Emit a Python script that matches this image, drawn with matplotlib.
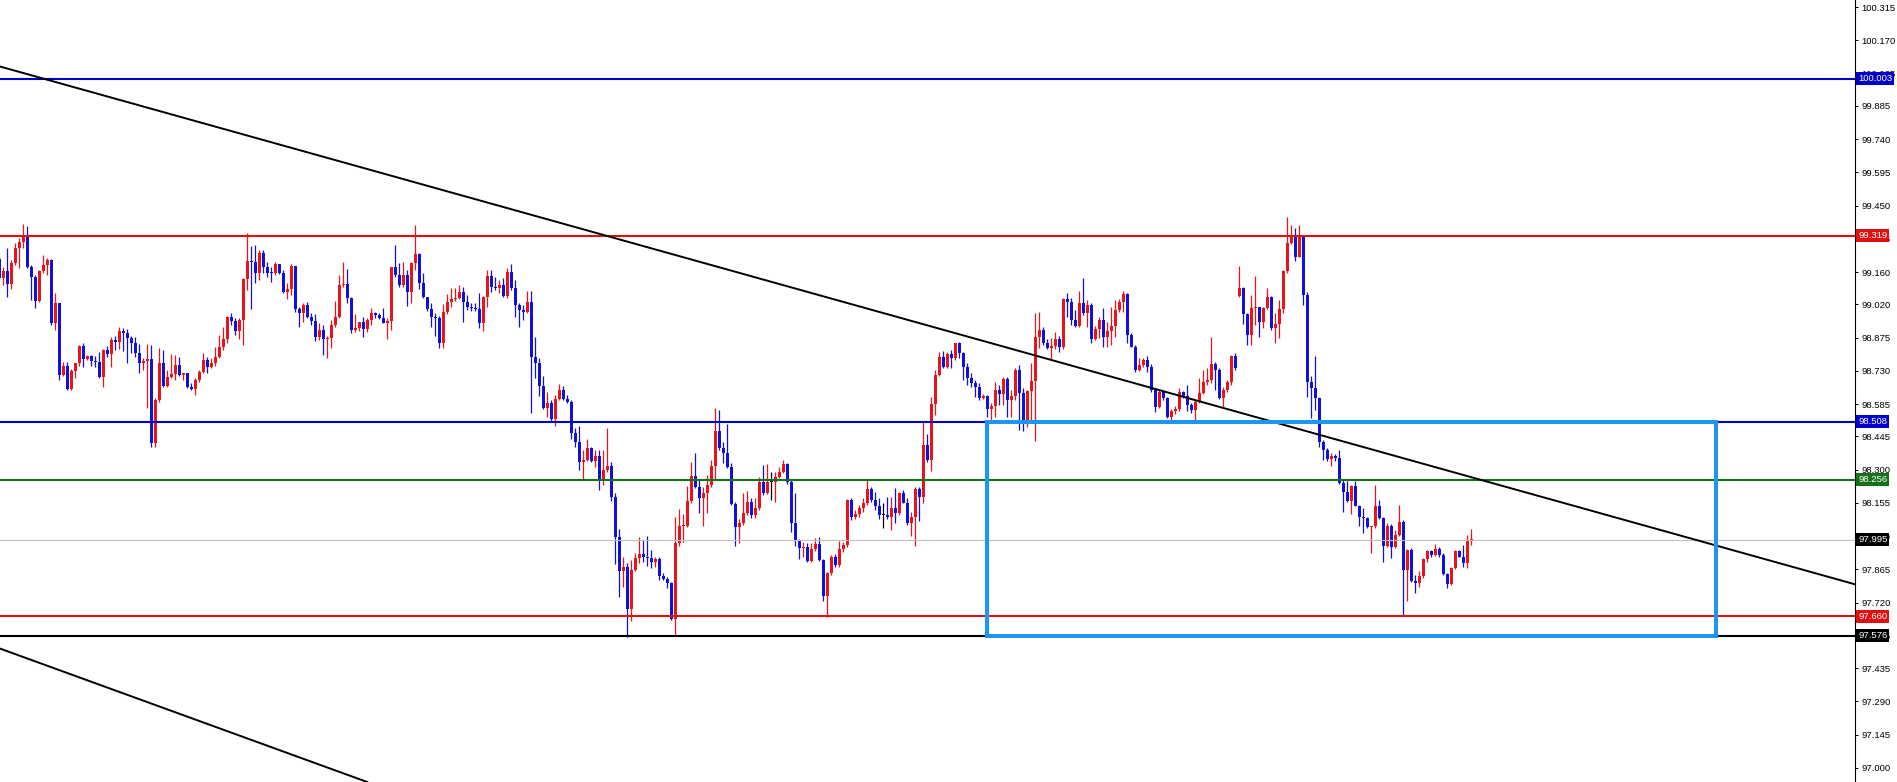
import matplotlib
matplotlib.use("Agg")
import matplotlib.pyplot as plt
from matplotlib.patches import Rectangle

######################################################################################
#####################   DATA  (one candle per bar, oldest first)
######################################################################################
first_open = 99.216

closes = [
    99.133, 99.165, 99.109, 99.199, 99.264, 99.290, 99.322, 99.181, 99.141, 99.036,
    99.165, 99.191, 99.213, 98.937, 99.024, 98.712, 98.751, 98.651, 98.731, 98.763,
    98.840, 98.782, 98.796, 98.775, 98.770, 98.702, 98.821, 98.804, 98.865, 98.857,
    98.904, 98.897, 98.875, 98.853, 98.810, 98.763, 98.773, 98.780, 98.414, 98.603,
    98.766, 98.666, 98.705, 98.717, 98.756, 98.712, 98.720, 98.661, 98.650, 98.690,
    98.727, 98.778, 98.749, 98.763, 98.792, 98.833, 98.868, 98.963, 98.949, 98.905,
    98.952, 99.129, 99.209, 99.206, 99.158, 99.245, 99.184, 99.158, 99.155, 99.196,
    99.158, 99.075, 99.087, 99.187, 98.998, 98.984, 99.017, 98.966, 98.947, 98.879,
    98.908, 98.869, 98.875, 98.930, 98.966, 99.104, 99.109, 99.046, 98.908, 98.918,
    98.941, 98.911, 98.952, 98.984, 98.973, 98.962, 98.940, 98.947, 99.181, 99.148,
    99.104, 99.148, 99.075, 99.199, 99.238, 99.111, 99.050, 98.998, 98.963, 98.959,
    98.850, 98.988, 99.029, 99.042, 99.049, 99.075, 99.032, 99.007, 99.002, 98.998,
    98.937, 99.050, 99.143, 99.097, 99.089, 99.104, 99.056, 99.159, 99.089, 99.017,
    98.995, 98.988, 99.031, 98.789, 98.766, 98.662, 98.567, 98.589, 98.519, 98.608,
    98.647, 98.606, 98.596, 98.458, 98.422, 98.335, 98.342, 98.393, 98.339, 98.357,
    98.248, 98.299, 98.316, 98.180, 98.005, 97.856, 97.875, 97.692, 97.863, 97.914,
    97.933, 97.918, 97.914, 97.895, 97.909, 97.834, 97.822, 97.805, 97.648, 97.982,
    98.052, 98.055, 98.161, 98.272, 98.226, 98.175, 98.197, 98.233, 98.316, 98.466,
    98.393, 98.374, 98.313, 98.150, 98.051, 98.066, 98.109, 98.160, 98.102, 98.131,
    98.247, 98.199, 98.247, 98.247, 98.269, 98.291, 98.324, 98.247, 98.069, 97.990,
    97.957, 97.961, 97.903, 97.953, 97.976, 97.906, 97.749, 97.851, 97.918, 97.884,
    97.953, 97.971, 98.167, 98.095, 98.106, 98.131, 98.153, 98.214, 98.167, 98.141,
    98.102, 98.102, 98.095, 98.131, 98.112, 98.199, 98.156, 98.069, 98.092, 98.214,
    98.179, 98.407, 98.342, 98.586, 98.712, 98.792, 98.745, 98.803, 98.785, 98.850,
    98.806, 98.745, 98.697, 98.679, 98.658, 98.610, 98.621, 98.563, 98.577, 98.647,
    98.629, 98.693, 98.603, 98.621, 98.734, 98.635, 98.516, 98.644, 98.687, 98.879,
    98.908, 98.850, 98.828, 98.839, 98.868, 98.833, 99.042, 99.032, 98.952, 98.926,
    99.027, 98.981, 99.017, 98.868, 98.911, 98.952, 98.879, 98.905, 98.926, 98.995,
    99.032, 99.065, 98.886, 98.835, 98.734, 98.756, 98.778, 98.748, 98.647, 98.571,
    98.640, 98.610, 98.531, 98.557, 98.563, 98.640, 98.621, 98.581, 98.560, 98.596,
    98.635, 98.683, 98.690, 98.760, 98.734, 98.611, 98.647, 98.683, 98.795, 98.741,
    99.090, 98.978, 98.886, 99.003, 99.010, 98.945, 99.003, 99.051, 98.915, 98.934,
    98.998, 99.167, 99.286, 99.322, 99.228, 99.322, 99.061, 98.683, 98.654, 98.611,
    98.418, 98.383, 98.345, 98.359, 98.349, 98.240, 98.200, 98.165, 98.229, 98.142,
    98.092, 98.088, 98.049, 98.052, 98.139, 98.088, 97.965, 98.055, 97.962, 98.015,
    98.073, 97.863, 97.950, 97.816, 97.805, 97.834, 97.909, 97.947, 97.928, 97.953,
    97.928, 97.845, 97.802, 97.870, 97.943, 97.921, 97.892, 97.991, 97.995,
]

highs = [
    99.230, 99.184, 99.264, 99.213, 99.286, 99.308, 99.370, 99.363, 99.191, 99.148,
    99.170, 99.235, 99.220, 99.216, 99.068, 99.022, 98.770, 98.770, 98.737, 98.766,
    98.843, 98.853, 98.799, 98.799, 98.796, 98.814, 98.824, 98.839, 98.876, 98.882,
    98.920, 98.916, 98.911, 98.882, 98.879, 98.847, 98.785, 98.847, 98.843, 98.611,
    98.828, 98.821, 98.734, 98.804, 98.799, 98.792, 98.722, 98.720, 98.676, 98.698,
    98.734, 98.810, 98.792, 98.785, 98.836, 98.886, 98.923, 98.969, 98.983, 98.959,
    98.959, 99.133, 99.332, 99.274, 99.278, 99.257, 99.257, 99.206, 99.184, 99.206,
    99.196, 99.169, 99.111, 99.196, 99.187, 99.010, 99.024, 99.032, 98.981, 98.976,
    98.937, 98.930, 98.882, 98.952, 99.035, 99.148, 99.206, 99.172, 99.050, 98.978,
    98.944, 98.966, 98.959, 99.002, 98.988, 98.981, 99.005, 98.959, 99.184, 99.278,
    99.201, 99.206, 99.169, 99.206, 99.366, 99.242, 99.155, 99.053, 99.024, 98.981,
    98.969, 99.020, 99.065, 99.090, 99.090, 99.104, 99.097, 99.061, 99.024, 99.024,
    99.068, 99.056, 99.169, 99.169, 99.140, 99.126, 99.133, 99.177, 99.195, 99.126,
    99.024, 99.017, 99.079, 99.079, 98.879, 98.785, 98.708, 98.640, 98.603, 98.625,
    98.673, 98.664, 98.625, 98.603, 98.480, 98.490, 98.386, 98.432, 98.400, 98.383,
    98.383, 98.383, 98.480, 98.335, 98.197, 98.040, 97.921, 97.892, 97.907, 97.936,
    98.005, 97.991, 98.011, 97.950, 97.921, 97.918, 97.848, 97.831, 97.812, 98.095,
    98.127, 98.107, 98.230, 98.331, 98.371, 98.255, 98.226, 98.277, 98.342, 98.567,
    98.560, 98.422, 98.499, 98.330, 98.160, 98.083, 98.199, 98.208, 98.175, 98.175,
    98.269, 98.320, 98.324, 98.291, 98.291, 98.313, 98.342, 98.330, 98.255, 98.199,
    97.999, 97.986, 97.979, 97.979, 98.001, 98.005, 97.909, 97.855, 97.928, 97.932,
    97.990, 97.986, 98.170, 98.175, 98.124, 98.146, 98.175, 98.255, 98.226, 98.204,
    98.175, 98.153, 98.182, 98.179, 98.218, 98.204, 98.211, 98.175, 98.117, 98.226,
    98.226, 98.509, 98.455, 98.618, 98.734, 98.814, 98.818, 98.814, 98.821, 98.853,
    98.857, 98.814, 98.763, 98.719, 98.690, 98.676, 98.629, 98.625, 98.592, 98.683,
    98.669, 98.702, 98.705, 98.647, 98.741, 98.756, 98.654, 98.647, 98.766, 98.984,
    98.988, 98.923, 98.868, 98.872, 98.901, 98.882, 99.046, 99.071, 99.046, 98.995,
    99.079, 99.133, 99.039, 99.024, 98.926, 98.966, 99.003, 98.944, 99.010, 99.039,
    99.042, 99.079, 99.068, 98.893, 98.843, 98.785, 98.785, 98.795, 98.760, 98.654,
    98.647, 98.647, 98.618, 98.563, 98.577, 98.654, 98.644, 98.669, 98.592, 98.603,
    98.697, 98.734, 98.741, 98.876, 98.770, 98.741, 98.661, 98.690, 98.799, 98.810,
    99.187, 99.094, 98.981, 99.061, 99.143, 99.010, 99.010, 99.090, 99.056, 98.981,
    99.039, 99.170, 99.402, 99.366, 99.351, 99.366, 99.271, 99.072, 98.708, 98.795,
    98.618, 98.429, 98.393, 98.371, 98.368, 98.383, 98.255, 98.248, 98.233, 98.248,
    98.146, 98.131, 98.095, 98.055, 98.233, 98.168, 98.095, 98.066, 98.063, 98.037,
    98.146, 98.081, 97.952, 97.957, 97.841, 97.856, 97.914, 97.950, 97.950, 97.976,
    97.961, 97.935, 97.851, 97.877, 97.950, 97.950, 97.972, 98.015, 98.040,
]

lows = [
    99.120, 99.104, 99.051, 99.087, 99.191, 99.177, 99.264, 99.177, 99.039, 99.006,
    99.032, 99.155, 99.148, 98.930, 98.908, 98.690, 98.708, 98.647, 98.647, 98.698,
    98.753, 98.749, 98.778, 98.753, 98.749, 98.698, 98.659, 98.792, 98.746, 98.821,
    98.824, 98.818, 98.763, 98.807, 98.792, 98.720, 98.734, 98.570, 98.398, 98.400,
    98.596, 98.661, 98.661, 98.698, 98.690, 98.709, 98.690, 98.654, 98.647, 98.625,
    98.683, 98.722, 98.722, 98.741, 98.753, 98.785, 98.821, 98.850, 98.930, 98.887,
    98.869, 98.843, 99.083, 99.000, 99.114, 99.126, 99.155, 99.138, 99.119, 99.148,
    99.152, 99.068, 99.042, 99.061, 98.988, 98.920, 98.944, 98.959, 98.930, 98.862,
    98.865, 98.799, 98.788, 98.828, 98.923, 98.959, 99.097, 99.024, 98.897, 98.901,
    98.905, 98.879, 98.901, 98.930, 98.959, 98.955, 98.937, 98.867, 98.908, 99.140,
    99.097, 99.097, 99.014, 99.024, 99.169, 99.087, 99.046, 98.992, 98.923, 98.884,
    98.831, 98.828, 98.978, 99.010, 99.035, 99.042, 98.944, 98.996, 98.992, 98.992,
    98.915, 98.905, 99.010, 99.075, 99.082, 99.068, 99.050, 99.046, 99.082, 98.963,
    98.920, 98.952, 98.984, 98.548, 98.698, 98.621, 98.563, 98.531, 98.509, 98.490,
    98.603, 98.603, 98.590, 98.432, 98.400, 98.296, 98.258, 98.339, 98.335, 98.313,
    98.211, 98.233, 98.291, 98.161, 97.889, 97.744, 97.790, 97.570, 97.638, 97.856,
    97.892, 97.899, 97.878, 97.870, 97.875, 97.819, 97.819, 97.783, 97.645, 97.580,
    97.965, 97.986, 98.049, 98.156, 98.219, 98.110, 98.052, 98.110, 98.226, 98.255,
    98.386, 98.328, 98.306, 98.146, 97.967, 97.982, 98.059, 98.102, 98.088, 98.088,
    98.124, 98.189, 98.194, 98.167, 98.160, 98.262, 98.284, 98.237, 98.030, 97.967,
    97.909, 97.921, 97.899, 97.895, 97.947, 97.903, 97.729, 97.656, 97.841, 97.874,
    97.877, 97.942, 97.964, 98.080, 98.083, 98.095, 98.117, 98.146, 98.160, 98.124,
    98.083, 98.044, 98.083, 98.037, 98.066, 98.102, 98.153, 98.059, 98.011, 97.967,
    98.077, 98.156, 98.334, 98.295, 98.538, 98.708, 98.741, 98.741, 98.741, 98.777,
    98.785, 98.690, 98.668, 98.661, 98.618, 98.603, 98.606, 98.531, 98.516, 98.531,
    98.581, 98.581, 98.531, 98.531, 98.603, 98.473, 98.470, 98.487, 98.502, 98.426,
    98.828, 98.843, 98.824, 98.777, 98.824, 98.814, 98.824, 98.966, 98.930, 98.923,
    98.923, 98.973, 98.923, 98.853, 98.865, 98.872, 98.836, 98.836, 98.843, 98.879,
    98.988, 98.988, 98.850, 98.832, 98.727, 98.731, 98.748, 98.727, 98.640, 98.552,
    98.567, 98.603, 98.523, 98.516, 98.542, 98.553, 98.610, 98.553, 98.545, 98.516,
    98.592, 98.629, 98.669, 98.679, 98.647, 98.606, 98.574, 98.640, 98.669, 98.734,
    99.051, 98.934, 98.843, 98.843, 98.930, 98.879, 98.915, 98.998, 98.908, 98.853,
    98.872, 98.981, 99.158, 99.283, 99.210, 99.225, 99.017, 98.618, 98.524, 98.560,
    98.397, 98.342, 98.339, 98.316, 98.339, 98.237, 98.117, 98.160, 98.107, 98.139,
    98.054, 98.025, 98.044, 97.935, 98.044, 98.084, 97.899, 97.962, 97.914, 97.957,
    98.011, 97.667, 97.729, 97.812, 97.761, 97.790, 97.827, 97.899, 97.921, 97.924,
    97.921, 97.841, 97.783, 97.797, 97.866, 97.918, 97.875, 97.870, 97.972,
]

# bars that open away from the previous close (weekend gap)
gap_opens = {310: 99.056}

# horizontal levels drawn on the chart
levels = [100.003, 99.319, 98.508, 98.256, 97.995, 97.660, 97.576]
level_colors = ['#0000c8', '#e01010', '#0000c8', '#17701a', '#c0c0c0', '#e01010', '#000000']
tag_colors = ['#0000c8', '#e01010', '#0000c8', '#17701a', '#000000', '#e01010', '#000000']
level_widths = [1.5, 1.5, 1.5, 1.5, 0.8, 1.5, 1.5]

# trendlines, two anchor points each (bar index, price)
trend_upper = [(0, 100.057), (400, 98.111)]
trend_lower = [(0, 97.521), (90, 96.951)]

# range box (bar index from/to, price from/to)
box_bars = (247.0, 429.1)
box_prices = (97.576, 98.508)

tick_labels = ["97.000", "97.145", "97.290", "97.435", "97.575", "97.720", "97.865", "98.010",
               "98.155", "98.300", "98.445", "98.585", "98.730", "98.875", "99.020", "99.160",
               "99.305", "99.450", "99.595", "99.740", "99.885", "100.025", "100.170", "100.315"]

######################################################################################
#####################   DRAW
######################################################################################
BULL = '#e8141c'; BEAR = '#1010d8'
FONT = 'Liberation Sans'

W, H = 1897, 782
AX_W = 1855

fig = plt.figure(figsize=(W / 100, H / 100), dpi=100, facecolor='white')
ax = fig.add_axes([0, 0, AX_W / W, 1])

n = len(closes)
opens = [first_open] + closes[:-1]
for k, v in gap_opens.items():
    opens[k] = v

xs = list(range(n))
body_col = []; bottoms = []; heights = []
for o, c in zip(opens, closes):
    if abs(c - o) < 1e-9:
        col = 'black'
    elif c > o:
        col = BULL
    else:
        col = BEAR
    body_col.append(col)
    bottoms.append(min(o, c))
    heights.append(max(abs(c - o), 0.0045))

hi = [max(h, o, c) for h, o, c in zip(highs, opens, closes)]
lo = [min(l, o, c) for l, o, c in zip(lows, opens, closes)]

ax.vlines(xs, lo, hi, colors=body_col, linewidth=0.9, zorder=2)
ax.bar(xs, heights, bottom=bottoms, width=0.8, color=body_col, linewidth=0, zorder=2)

# levels
for lvl, col, lw in zip(levels, level_colors, level_widths):
    ax.axhline(lvl, color=col, linewidth=lw, zorder=3)

# trendlines
ax.axline(trend_upper[0], trend_upper[1], color='black', linewidth=1.4, zorder=3)
ax.axline(trend_lower[0], trend_lower[1], color='black', linewidth=1.4, zorder=3)

# range box
ax.add_patch(Rectangle((box_bars[0], box_prices[0]), box_bars[1] - box_bars[0],
                       box_prices[1] - box_prices[0], fill=False, edgecolor='#1e96f0',
                       linewidth=2.9, zorder=4, joinstyle='miter'))

# axes / scale
ax.set_xlim(0.175, 0.175 + AX_W / 4)
ax.set_ylim(96.9385, 100.346)
ax.set_xticks([])
for s in ['top', 'left', 'bottom']:
    ax.spines[s].set_visible(False)
ax.spines['right'].set_linewidth(0.8)
ax.spines['right'].set_color('black')
ax.yaxis.tick_right()
ax.set_yticks([float(t) for t in tick_labels])
ax.set_yticklabels(tick_labels, fontfamily=FONT)
ax.tick_params(axis='y', direction='out', length=2.5, width=0.7, pad=2,
               labelsize=6.8, colors='black')

# price tags on the scale (they cover the tick label beneath, as on the terminal)
trans = ax.get_yaxis_transform()
for lvl, col in zip(levels, tag_colors):
    ax.text(1.0 + 3 / AX_W, lvl, "{:.3f}".format(lvl), transform=trans, ha='left',
            va='center', fontsize=6.8, fontfamily=FONT, color='white', clip_on=False,
            zorder=10, bbox=dict(boxstyle='square,pad=0.2', fc=col, ec='none'))

fig.savefig("out.png", dpi=100, facecolor='white')
